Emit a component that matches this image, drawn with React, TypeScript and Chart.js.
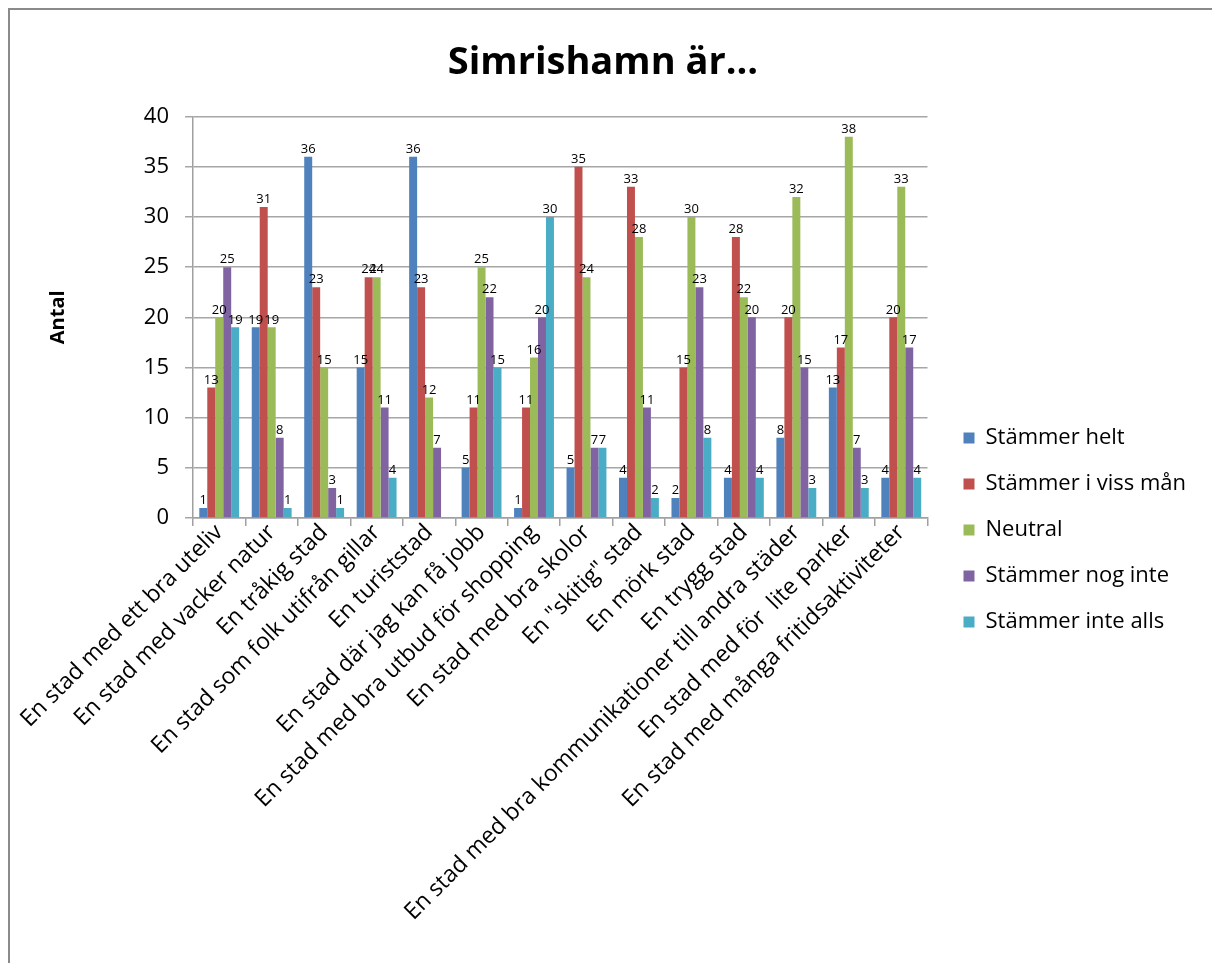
import React, { useEffect, useRef } from "react";
import { Chart, registerables } from "chart.js";
Chart.register(...registerables);

const FONT = "'Open Sans', Lato, sans-serif";

const chartTitle = "Simrishamn är...";
const yAxisTitle = "Antal";

const categories = [
  "En stad med ett bra uteliv",
  "En stad med vacker natur",
  "En tråkig stad",
  "En stad som folk utifrån gillar",
  "En turiststad",
  "En stad där jag kan få jobb",
  "En stad med bra utbud för shopping",
  "En stad med bra skolor",
  'En "skitig" stad',
  "En mörk stad",
  "En trygg stad",
  "En stad med bra kommunikationer till andra städer",
  "En stad med för  lite parker",
  "En stad med många fritidsaktiviteter",
];

const seriesNames = [
  "Stämmer helt",
  "Stämmer i viss mån",
  "Neutral",
  "Stämmer nog inte",
  "Stämmer inte alls",
];

const stammerHelt = [1, 19, 36, 15, 36, 5, 1, 5, 4, 2, 4, 8, 13, 4];
const stammerIVissMan = [13, 31, 23, 24, 23, 11, 11, 35, 33, 15, 28, 20, 17, 20];
const neutral = [20, 19, 15, 24, 12, 25, 16, 24, 28, 30, 22, 32, 38, 33];
const stammerNogInte = [25, 8, 3, 11, 7, 22, 20, 7, 11, 23, 20, 15, 7, 17];
const stammerInteAlls = [19, 1, 1, 4, null, 15, 30, 7, 2, 8, 4, 3, 3, 4];

const seriesColors = ["#4F81BD", "#C0504D", "#9BBB59", "#8064A2", "#4BACC6"];

const yMin = 0;
const yMax = 40;
const yStep = 5;

const valueLabels = {
  id: "valueLabels",
  afterDatasetsDraw(chart: any) {
    const ctx = chart.ctx;
    ctx.save();
    ctx.font = `13px ${FONT}`;
    ctx.fillStyle = "#000";
    ctx.textAlign = "center";
    ctx.textBaseline = "bottom";
    chart.data.datasets.forEach((ds: any, i: number) => {
      const meta = chart.getDatasetMeta(i);
      meta.data.forEach((el: any, j: number) => {
        const v = ds.data[j];
        if (v == null) return;
        ctx.fillText(String(v), el.x, el.y - 1);
      });
    });
    ctx.restore();
  },
};

export default function App() {
  const canvasRef = useRef<HTMLCanvasElement | null>(null);

  useEffect(() => {
    if (!canvasRef.current) return;
    const seriesData = [stammerHelt, stammerIVissMan, neutral, stammerNogInte, stammerInteAlls];
    const chart = new Chart(canvasRef.current, {
      type: "bar",
      data: {
        labels: categories,
        datasets: seriesNames.map((name, i) => ({
          label: name,
          data: seriesData[i],
          backgroundColor: seriesColors[i],
          borderWidth: 0,
          categoryPercentage: 0.76,
          barPercentage: 1.0,
          yAxisID: "y",
        })),
      },
      options: {
        animation: false,
        responsive: true,
        maintainAspectRatio: false,
        layout: { padding: { left: 0, right: 16, top: 0, bottom: 0 } },
        plugins: {
          title: {
            display: true,
            text: chartTitle,
            color: "#000",
            font: { family: FONT, size: 38, weight: "bold" },
            padding: { top: 30, bottom: 31 },
          },
          legend: {
            position: "right",
            align: "start",
            maxWidth: 320,
            title: {
              display: true,
              text: " ",
              font: { family: FONT, size: 10, lineHeight: 1 },
              padding: { top: 0, bottom: 383 },
            },
            labels: {
              boxWidth: 11,
              boxHeight: 11,
              padding: 24,
              color: "#000",
              font: { family: FONT, size: 22 },
            },
          },
          tooltip: { enabled: false },
        },
        scales: {
          x: {
            grid: {
              drawOnChartArea: false,
              drawTicks: true,
              tickLength: 8,
              color: "#a0a0a0",
              lineWidth: 1.5,
              offset: true,
            },
            border: { color: "#a0a0a0", width: 1.5 },
            ticks: {
              autoSkip: false,
              maxRotation: 45,
              minRotation: 45,
              color: "#000",
              padding: -7,
              font: { family: FONT, size: 23 },
            },
            afterFit: (s: any) => {
              s.height = 445;
            },
          },
          y: {
            min: yMin,
            max: yMax,
            ticks: {
              stepSize: yStep,
              color: "#000",
              padding: 16,
              font: { family: FONT, size: 22 },
            },
            grid: { color: "#a6a6a6", lineWidth: 1.5, tickLength: 8 },
            border: { color: "#a0a0a0", width: 1.5 },
            title: {
              display: true,
              text: yAxisTitle,
              color: "#000",
              font: { family: FONT, size: 20, weight: "bold" },
              padding: { top: 36, bottom: 0 },
            },
            afterFit: (s: any) => {
              s.width = 183;
            },
          },
          gap: {
            type: "linear",
            position: "right",
            display: true,
            ticks: { display: false },
            grid: { display: false, drawOnChartArea: false, drawTicks: false },
            border: { display: false },
            afterFit: (s: any) => {
              s.width = 12;
            },
          },
        },
      },
      plugins: [valueLabels],
    });
    return () => chart.destroy();
  }, []);

  return (
    <div
      style={{
        position: "fixed",
        left: 8,
        top: 8,
        right: 0,
        bottom: 0,
        borderLeft: "2px solid #8a8a8a",
        borderTop: "2px solid #8a8a8a",
        background: "#fff",
        boxSizing: "border-box",
      }}
    >
      <div style={{ position: "relative", width: "100%", height: "100%" }}>
        <canvas ref={canvasRef} />
      </div>
    </div>
  );
}
